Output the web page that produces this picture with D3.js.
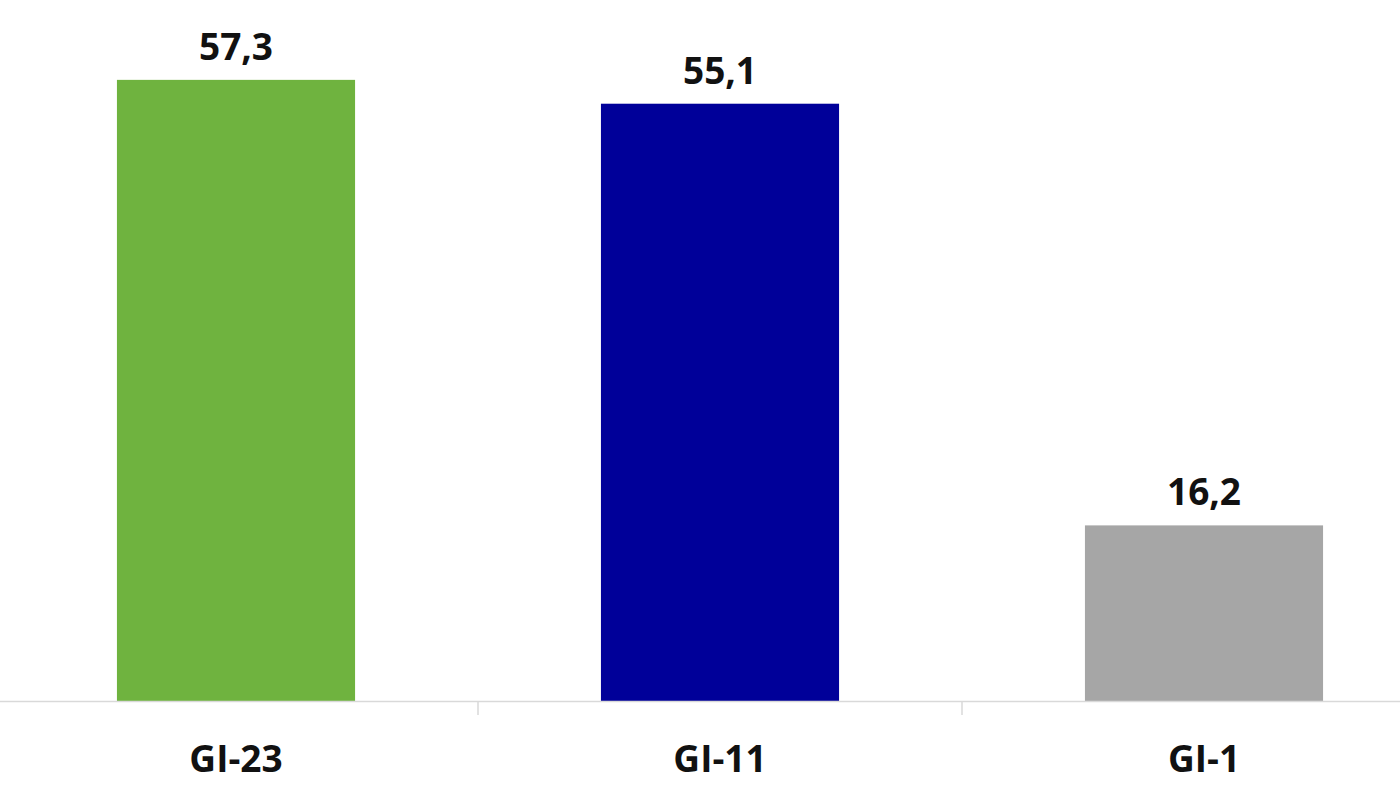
<!DOCTYPE html>
<html><head><meta charset="utf-8">
<script src="https://cdn.jsdelivr.net/npm/d3@7"></script>
<style>html,body{margin:0;padding:0;background:#fff;}svg{display:block;}</style>
</head><body>
<svg id="c" width="1400" height="796"></svg>
<script>
const categories = ["GI-23", "GI-11", "GI-1"];
const values = [57.3, 55.1, 16.2];
const colors = ["#6FB33F", "#000099", "#A6A6A6"];

const svg = d3.select("#c");
const baseY = 701;
const x = d3.scaleBand().domain(categories).range([-6, 1446]).paddingInner(0.508).paddingOuter(0.254);
const y = d3.scaleLinear().domain([0, 60]).range([baseY, baseY - 60 * 10.84]);
const font = "'Open Sans', sans-serif";

svg.selectAll("rect.bar").data(values).join("rect")
  .attr("class", "bar")
  .attr("x", (d, i) => x(categories[i]))
  .attr("width", x.bandwidth())
  .attr("y", d => y(d))
  .attr("height", d => y(0) - y(d))
  .attr("fill", (d, i) => colors[i]);

// axis line
svg.append("line").attr("x1", 0).attr("x2", 1400).attr("y1", baseY + 0.5).attr("y2", baseY + 0.5)
  .attr("stroke", "#d9d9d9").attr("stroke-width", 1.5);
// ticks between categories
const step = x.step();
categories.slice(1).forEach(c => {
  const tx = x(c) - x.paddingInner() * step / 2;
  svg.append("line").attr("x1", tx).attr("x2", tx).attr("y1", baseY).attr("y2", baseY + 14)
    .attr("stroke", "#d9d9d9").attr("stroke-width", 1.5);
});

// value labels
svg.selectAll("text.val").data(values).join("text")
  .attr("class", "val")
  .attr("x", (d, i) => x(categories[i]) + x.bandwidth() / 2)
  .attr("y", d => y(d) - 20)
  .attr("text-anchor", "middle")
  .attr("font-family", font).attr("font-weight", 700).attr("font-size", 37)
  .attr("fill", "#111")
  .text(d => d3.format(".1f")(d).replace(".", ","));

// category labels
svg.selectAll("text.cat").data(categories).join("text")
  .attr("class", "cat")
  .attr("x", d => x(d) + x.bandwidth() / 2)
  .attr("y", 772)
  .attr("text-anchor", "middle")
  .attr("font-family", font).attr("font-weight", 700).attr("font-size", 37)
  .attr("fill", "#111")
  .text(d => d);
</script>
</body></html>
